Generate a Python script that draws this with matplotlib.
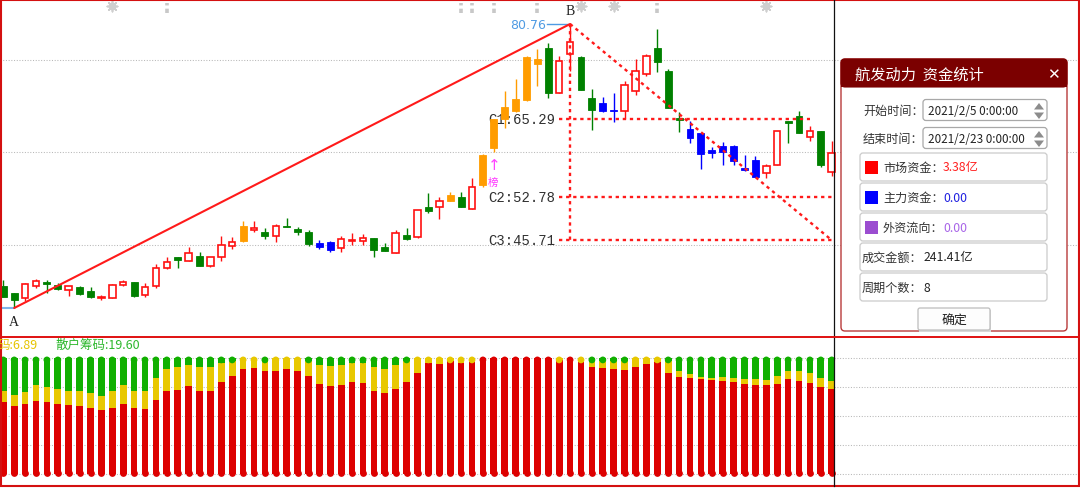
import numpy as np
import matplotlib
matplotlib.use("Agg")
import matplotlib.pyplot as plt
import matplotlib.transforms as mtransforms
from matplotlib.patches import Rectangle, FancyBboxPatch, Polygon

plt.rcParams['font.family'] = ['Noto Sans CJK SC', 'DejaVu Sans']

# ---- daily candles (open / high / low / close) ----
opens = [38.22, 37.09, 36.28, 38.32, 38.87, 38.43, 37.62, 38.16, 37.41, 36.33,
         36.28, 38.43, 38.87, 36.86, 38.22, 41.14, 42.93, 42.37, 43.09, 41.56,
         42.93, 44.71, 45.62, 47.40, 46.98, 46.43, 48.05, 47.51, 46.98, 45.20,
         45.36, 44.43, 45.52, 45.52, 46.01, 44.55, 43.57, 46.54, 46.27, 51.13,
         51.03, 52.10, 52.75, 50.76, 54.70, 60.65, 65.35, 66.70, 68.48, 74.27,
         76.86, 69.57, 75.89, 75.45, 68.71, 67.95, 66.86, 66.60, 69.84, 72.65,
         76.82, 73.09, 65.46, 63.73, 63.08, 60.32, 61.02, 61.02, 57.36, 58.70,
         56.55, 57.89, 65.03, 65.79, 62.48, 63.36, 56.71]
highs = [39.24, 37.20, 38.76, 39.41, 39.24, 38.71, 38.22, 38.22, 38.11, 36.86,
         38.55, 39.24, 38.87, 38.76, 41.84, 42.93, 43.02, 44.64, 43.74, 42.93,
         46.33, 46.27, 48.76, 48.76, 47.63, 48.33, 49.30, 47.89, 47.35, 45.73,
         45.52, 46.43, 46.87, 46.70, 46.05, 45.20, 47.35, 47.63, 50.60, 53.35,
         52.65, 53.56, 53.47, 55.74, 59.68, 65.35, 69.94, 71.84, 75.50, 76.70,
         77.67, 75.62, 80.76, 75.62, 70.22, 68.87, 69.57, 71.56, 75.08, 75.89,
         79.94, 73.46, 66.44, 64.98, 63.08, 60.86, 61.57, 61.18, 59.51, 59.40,
         58.05, 63.36, 65.03, 66.65, 64.26, 63.36, 61.73]
lows = [36.49, 34.70, 35.89, 37.90, 37.14, 37.67, 36.70, 36.86, 36.33, 36.05,
        36.28, 38.22, 36.54, 36.54, 38.00, 41.03, 41.19, 42.37, 41.47, 41.30,
        42.37, 44.27, 45.45, 47.08, 45.89, 45.45, 47.79, 46.54, 44.81, 44.27,
        43.74, 43.83, 44.92, 44.97, 42.93, 43.90, 43.57, 45.78, 46.10, 50.11,
        49.14, 52.00, 51.08, 50.76, 54.28, 59.95, 63.89, 66.44, 68.30, 70.75,
        68.71, 69.57, 73.18, 70.10, 63.62, 66.44, 64.82, 65.35, 69.24, 72.27,
        72.92, 67.13, 63.19, 61.41, 57.24, 59.03, 57.94, 57.94, 57.00, 55.95,
        55.74, 57.89, 61.46, 63.03, 61.83, 57.52, 56.16]
closes = [36.54, 36.00, 38.60, 39.03, 38.60, 37.74, 38.22, 37.02, 36.44, 36.49,
          38.39, 38.87, 36.70, 38.16, 41.14, 42.11, 42.44, 43.57, 41.56, 42.93,
          44.97, 45.36, 47.95, 47.63, 46.33, 47.95, 47.79, 47.08, 45.03, 44.55,
          44.16, 45.89, 45.73, 46.01, 44.16, 43.90, 46.82, 45.89, 50.60, 50.43,
          52.01, 53.03, 51.13, 54.37, 59.51, 65.35, 67.35, 68.59, 75.36, 75.08,
          69.57, 74.71, 77.79, 70.10, 66.86, 66.70, 66.65, 70.86, 73.09, 75.52,
          74.64, 67.13, 65.19, 62.22, 59.68, 59.79, 59.95, 58.59, 57.08, 55.95,
          57.78, 63.36, 64.75, 63.03, 63.36, 57.94, 59.79]
# candle style: r = rising (hollow), g = falling, o = strong-rise highlight, b = weak-fall highlight
kinds = ['g', 'g', 'r', 'r', 'g', 'g', 'r', 'g', 'g', 'r',
         'r', 'r', 'g', 'r', 'r', 'r', 'g', 'r', 'g', 'r',
         'r', 'r', 'o', 'r', 'g', 'r', 'g', 'g', 'g', 'b',
         'b', 'r', 'r', 'r', 'g', 'g', 'r', 'g', 'r', 'g',
         'r', 'o', 'g', 'r', 'o', 'o', 'o', 'o', 'o', 'o',
         'g', 'r', 'r', 'g', 'g', 'b', 'b', 'r', 'r', 'r',
         'g', 'g', 'g', 'b', 'b', 'b', 'b', 'b', 'b', 'b',
         'r', 'r', 'g', 'g', 'r', 'g', 'r']

# ---- chip distribution (percent, stacked) ----
chip_main = [62.1, 59.2, 60.6, 63.5, 62.1, 60.6, 59.8, 59.2, 57.5, 55.7,
             57.5, 60.6, 57.5, 56.6, 64.4, 71.6, 73.0, 76.1, 72.1, 72.1,
             79.3, 84.8, 91.1, 92.0, 88.8, 89.4, 91.1, 88.8, 84.8, 77.9,
             76.1, 77.0, 79.3, 78.4, 72.1, 70.1, 73.9, 79.3, 87.1, 96.0,
             95.1, 97.4, 96.0, 96.8, 100.0, 100.0, 100.0, 100.0, 100.0, 100.0,
             100.0, 98.6, 100.0, 96.6, 92.8, 92.0, 91.1, 90.2, 92.8, 95.1,
             96.6, 87.1, 83.9, 82.8, 81.9, 81.0, 80.2, 79.3, 77.9, 77.0,
             77.0, 77.9, 81.9, 80.7, 78.4, 75.6, 73.51]
chip_hot = [9.5, 9.2, 10.1, 13.5, 13.5, 13.3, 12.3, 12.4, 12.6, 12.1,
            14.1, 16.4, 14.6, 15.5, 18.4, 19.5, 19.8, 18.4, 20.7, 20.7,
            16.7, 13.2, 8.9, 8.0, 9.2, 10.6, 8.9, 11.2, 13.2, 16.6,
            17.3, 17.5, 16.7, 17.6, 20.7, 21.0, 20.6, 18.7, 12.9, 4.0,
            4.9, 2.6, 4.0, 3.2, 0.0, 0.0, 0.0, 0.0, 0.0, 0.0,
            0.0, 1.4, 0.0, 3.4, 4.6, 6.0, 6.3, 7.8, 7.2, 4.9,
            3.4, 10.9, 5.5, 3.4, 2.0, 2.0, 3.7, 3.7, 4.0, 4.9,
            4.0, 6.9, 6.9, 8.7, 8.7, 7.4, 6.89]
chip_retail = [28.4, 31.6, 29.3, 23.0, 24.4, 26.1, 27.9, 28.4, 29.9, 32.2,
               28.4, 23.0, 27.9, 27.9, 17.2, 8.9, 7.2, 5.5, 7.2, 7.2,
               4.0, 2.0, 0.0, 0.0, 2.0, 0.0, 0.0, 0.0, 2.0, 5.5,
               6.6, 5.5, 4.0, 4.0, 7.2, 8.9, 5.5, 2.0, 0.0, 0.0,
               0.0, 0.0, 0.0, 0.0, 0.0, 0.0, 0.0, 0.0, 0.0, 0.0,
               0.0, 0.0, 0.0, 0.0, 2.6, 2.0, 2.6, 2.0, 0.0, 0.0,
               0.0, 2.0, 10.6, 13.8, 16.1, 17.0, 16.1, 17.0, 18.1, 18.1,
               19.0, 15.2, 11.2, 10.6, 12.9, 17.0, 19.60]

# ---- wave points and retracement levels ----
point_a = 1
point_b = 52
c_levels = [65.29, 52.78, 45.71]
c_line_end = [74, 76, 76]
star_marks = [10, 53, 56, 70]
tick_marks = [15, 42, 43, 45, 49, 60]
signal_bar = 45

W, H = 1080, 489
fig = plt.figure(figsize=(W / 100, H / 100), dpi=100)
fig.patch.set_facecolor('white')


def box(x0, y0, x1, y1):
    return [x0 / W, 1 - y1 / H, (x1 - x0) / W, (y1 - y0) / H]


n = len(opens)
idx = np.arange(n)
pitch = 10.9
x_lo = -3.3 / pitch
xlim = (x_lo, x_lo + W / pitch)

ax = fig.add_axes(box(0, 2, W, 338))
ax2 = fig.add_axes(box(0, 340, W, 486))
for a in (ax, ax2):
    a.set_xlim(*xlim)
    a.set_xticks([])
    a.set_yticks([])
    for s in a.spines.values():
        s.set_visible(False)
    a.patch.set_alpha(0)

ax.set_ylim(30.0, 84.49)
ax2.set_ylim(-9.22, 116.64)

grid_kw = dict(color='#b8b8b8', lw=0.75, linestyle=(0, (1, 1.6)), zorder=1)
for g in (45, 60, 75):
    ax.axhline(g, **grid_kw)
for g in (0, 25, 50, 75, 100):
    ax2.axhline(g, **grid_kw)

# ---- candles ----
palette = {'r': '#ff1010', 'g': '#008000', 'o': '#ff9c00', 'b': '#0000ff'}
for i in range(n):
    k = kinds[i]
    col = palette[k]
    o, h, l, c = opens[i], highs[i], lows[i], closes[i]
    ax.vlines(i, l, h, color=col, lw=1.0, zorder=3)
    lo, hi = min(o, c), max(o, c)
    hgt = max(hi - lo, 0.2)
    if abs(hi - lo) < 0.2:
        lo = (lo + hi) / 2 - 0.1
    if k == 'r':
        ax.add_patch(Rectangle((i - 0.30, lo), 0.60, hgt, fc='white', ec=col,
                               lw=1.2, zorder=4))
    else:
        ax.add_patch(Rectangle((i - 0.32, lo), 0.64, hgt, fc=col, ec=col,
                               lw=0.6, zorder=4))

# ---- wave lines ----
red_line = '#ff1a1a'
ya, yb = lows[point_a], highs[point_b]
ax.plot([point_a, point_b], [ya, yb], color=red_line, lw=1.5, zorder=6,
        solid_capstyle='round')
dot = dict(color=red_line, lw=1.7, linestyle=(0, (1.4, 1.6)), zorder=6)
ax.plot([point_b, n - 1], [yb, c_levels[-1]], **dot)
ax.plot([point_b, point_b], [yb, c_levels[-1]], **dot)
for k, lv in enumerate(c_levels):
    ax.plot([point_b - 1, c_line_end[k]], [lv, lv], **dot)
    ax.text(point_b - 1.4, lv, f"C{k + 1}:{lv:.2f}", ha='right', va='center',
            fontsize=10, family='Liberation Mono', color='#303030', zorder=3.5)

# point tags
tag_blue = '#4f9be3'
ax.plot([point_b - 23 / pitch, point_b], [yb, yb], color=tag_blue, lw=1, zorder=5)
ax.annotate(f"{yb:.2f}", (point_b - 24 / pitch, yb), ha='right', va='center',
            fontsize=9, color=tag_blue, family='DejaVu Sans', zorder=7)
ax.plot([xlim[0], point_a], [ya, ya], color='#7fb4ea', lw=1.5, zorder=5)
ax.annotate("B", (point_b, yb), xytext=(0, 10), textcoords='offset points',
            ha='center', va='center', fontsize=10, family='Liberation Serif',
            color='#202020')
ax.annotate("A", (point_a, ya), xytext=(0, -10), textcoords='offset points',
            ha='center', va='center', fontsize=10, family='Liberation Serif',
            color='#202020')
ax.annotate("↑", (signal_bar, lows[signal_bar]), xytext=(0, -8.5),
            textcoords='offset points', ha='center', va='center', fontsize=11,
            color='#ff44ff', family=['DejaVu Sans'])
ax.annotate("榜", (signal_bar, lows[signal_bar]), xytext=(-0.5, -21),
            textcoords='offset points', ha='center', va='center', fontsize=7.5,
            color='#ff33ff')

# event marks along the top
top_tr = mtransforms.blended_transform_factory(ax.transData, ax.transAxes)
ax.scatter(star_marks, [0.985] * len(star_marks), transform=top_tr, s=22,
           marker='o', color='#cfcfcf', zorder=2, clip_on=False)
ax.scatter(star_marks, [0.985] * len(star_marks), transform=top_tr, s=55,
           marker=(8, 2, 0), color='#cfcfcf', lw=1.2, zorder=2, clip_on=False)
ax.vlines(tick_marks, 0.965, 0.995, transform=top_tr, color='#c8c8c8', lw=2.6,
          linestyles=[(0, (1.2, 0.9))], zorder=2)

# ---- chip bars ----
main = np.array(chip_main)
hot = np.array(chip_hot)
retail = np.array(chip_retail)
bw = 0.62
ax2.bar(idx, main, width=bw, color='#dd0000', zorder=3)
ax2.bar(idx, hot, bottom=main, width=bw, color='#e8c800', zorder=3)
ax2.bar(idx, retail, bottom=main + hot, width=bw, color='#11b000', zorder=3)
cap_col = ['#11b000' if r > 0 else ('#e8c800' if y > 0 else '#dd0000')
           for r, y in zip(chip_retail, chip_hot)]
ms = (bw * pitch * 0.72) ** 2
ax2.scatter(idx, [98.6] * n, s=ms, c=cap_col, marker='o', lw=0, zorder=4)
ax2.scatter(idx, [1.3] * n, s=ms, c='#dd0000', marker='o', lw=0, zorder=4)

# ---- overlay in pixel space: frame, cursor, legend, dialog ----
ov = fig.add_axes([0, 0, 1, 1])
ov.set_xlim(0, W)
ov.set_ylim(H, 0)
ov.axis('off')
ov.patch.set_alpha(0)

ov.text(-2, 345, f"码:{chip_hot[-1]:.2f}", fontsize=9, color='#e6c400',
        va='center', ha='left')
ov.text(55, 345, f"散户筹码:{chip_retail[-1]:.2f}", fontsize=9, color='#2db82d',
        va='center', ha='left')

ov.plot([833.5, 833.5], [0, 487], color='#111111', lw=0.9)
ov.plot([0, W], [337.5, 337.5], color='#e01010', lw=1.4)
ov.add_patch(Rectangle((1, 1), W - 2, 486, fill=False, ec='#d41010', lw=1.5))

# dialog
dlg_x, dlg_y, dlg_w, dlg_h = 841, 60, 226, 272
ov.add_patch(FancyBboxPatch((dlg_x, dlg_y), dlg_w, dlg_h,
                            boxstyle="round,pad=0,rounding_size=4",
                            fc='white', ec='#b83a3a', lw=1.0, zorder=10))
ov.add_patch(FancyBboxPatch((dlg_x, dlg_y), dlg_w, 28,
                            boxstyle="round,pad=0,rounding_size=4",
                            fc='#7b0000', ec='#7b0000', lw=0.8, zorder=11))
ov.add_patch(Rectangle((dlg_x, dlg_y + 14), dlg_w, 14, fc='#7b0000',
                       ec='none', zorder=11))
ov.text(855, 75, "航发动力  资金统计", color='white', fontsize=11,
        va='center', ha='left', zorder=12)
ov.text(1053, 74.5, "✕", color='white', fontsize=11, va='center', ha='center',
        zorder=12, family=['DejaVu Sans'])

label_col = '#333333'
fs = 8.7
for yc, lab, val in [(111, "开始时间：", "2021/2/5 0:00:00"),
                     (139, "结束时间：", "2021/2/23 0:00:00")]:
    ov.text(863, yc, lab, fontsize=fs, color=label_col, va='center', zorder=12)
    ov.add_patch(FancyBboxPatch((923, yc - 10.5), 124, 21,
                                boxstyle="round,pad=0,rounding_size=3",
                                fc='white', ec='#a8a8a8', lw=0.9, zorder=11))
    ov.text(928, yc + 0.5, val, fontsize=8.4, color='#222222', va='center',
            zorder=12)
    ov.add_patch(Polygon([(1034, yc - 0.5), (1044, yc - 0.5), (1039, yc - 7)],
                         closed=True, fc='#8c8c8c', ec='none', zorder=12))
    ov.add_patch(Polygon([(1034, yc + 2.5), (1044, yc + 2.5), (1039, yc + 9)],
                         closed=True, fc='#8c8c8c', ec='none', zorder=12))

rows = [("市场资金：", "3.38亿", '#ff0000', '#ff2020'),
        ("主力资金：", "0.00", '#0000ff', '#2020e0'),
        ("外资流向：", "0.00", '#9b4dd0', '#a865e8'),
        ("成交金额：", "241.41亿", None, '#222222'),
        ("周期个数：", "8", None, '#222222')]
for r, (lab, val, sq, vc) in enumerate(rows):
    top = 154 + 30 * r
    yc = top + 14
    ov.add_patch(FancyBboxPatch((860, top), 187, 28,
                                boxstyle="round,pad=0,rounding_size=3",
                                fc='white', ec='#cbcbcb', lw=0.9, zorder=11))
    if sq is not None:
        ov.add_patch(Rectangle((865, yc - 6.5), 13, 13, fc=sq, ec='none',
                               zorder=12))
        ov.text(883, yc, lab, fontsize=fs, color=label_col, va='center',
                zorder=12)
        ov.text(943, yc, val, fontsize=8.8, color=vc, va='center', zorder=12)
    else:
        ov.text(862, yc, lab, fontsize=fs, color=label_col, va='center',
                zorder=12)
        ov.text(924, yc, val, fontsize=8.8, color=vc, va='center', zorder=12)

ov.add_patch(Rectangle((919, 311), 72, 22, fc='#d8d8d8', ec='none', zorder=11))
ov.add_patch(FancyBboxPatch((918, 309), 72, 22,
                            boxstyle="round,pad=0,rounding_size=2",
                            fc='#fdfdfd', ec='#bdbdbd', lw=0.9, zorder=12))
ov.text(954, 320, "确定", fontsize=9.3, color='#222222', va='center',
        ha='center', zorder=13)

fig.savefig("out.png", dpi=100, facecolor='white')
